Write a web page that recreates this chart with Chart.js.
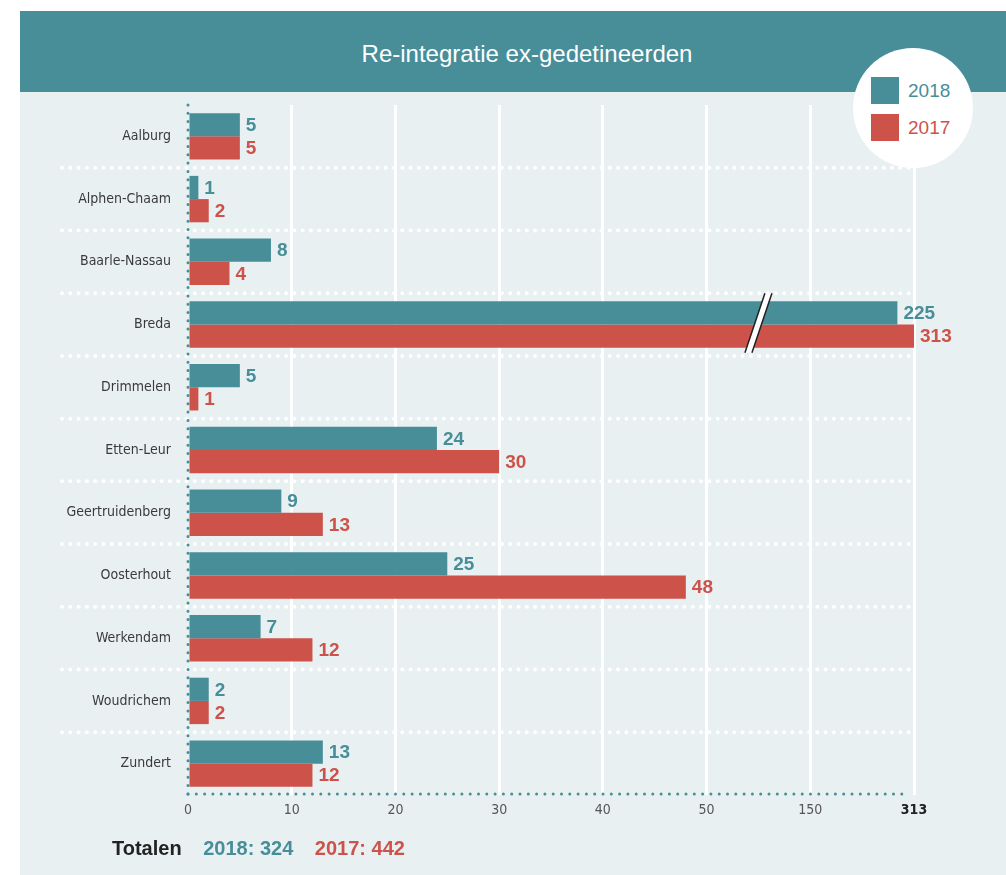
<!DOCTYPE html>
<html>
<head>
<meta charset="utf-8">
<title>Re-integratie ex-gedetineerden</title>
<script src="https://cdn.jsdelivr.net/npm/chart.js@4.4.0/dist/chart.umd.min.js"></script>
<style>
    body {
        margin: 0;
        width: 1006px;
        height: 875px;
        background: #fff;
        position: relative;
        overflow: hidden;
        font-family: 'Liberation Sans', Arial, sans-serif;
    }
    .header {
        position: absolute;
        left: 20px; top: 11px;
        width: 986px; height: 81px;
        background: #478e99;
    }
    .title {
        position: absolute;
        left: 20px; top: 13px;
        width: 1014px;
        line-height: 81px;
        text-align: center;
        color: #fff;
        font-size: 24px;
    }
    .panel {
        position: absolute;
        left: 20px; top: 92px;
        width: 986px; height: 783px;
        background: #e8f0f2;
    }
    .legend {
        position: absolute;
        left: 853px; top: 48px;
        width: 120px; height: 120px;
        border-radius: 50%;
        background: #fff;
        z-index: 2;
    }
    .legend .item {
        position: absolute;
        left: 18px;
        height: 27px;
        line-height: 27px;
        font-size: 19px;
        white-space: nowrap;
    }
    .legend .swatch {
        display: inline-block;
        width: 28px; height: 27px;
        vertical-align: top;
        margin-right: 9px;
    }
    .totals {
        position: absolute;
        left: 112px; top: 837px;
        font-size: 20px;
        font-weight: bold;
        white-space: nowrap;
        z-index: 2;
    }
    .totals span { margin-right: 16px; }
    #chartWrap {
        position: absolute;
        left: 20px; top: 92px;
    }
</style>
</head>
<body>
<div class="header"></div>
<div class="title">Re-integratie ex-gedetineerden</div>
<div class="panel"></div>
<div class="legend" id="legend"></div>
<div id="chartWrap"><canvas id="barChart" width="986" height="783"></canvas></div>
<div class="totals" id="totals"></div>

<script>
// Data
const categories = ['Aalburg', 'Alphen-Chaam', 'Baarle-Nassau', 'Breda', 'Drimmelen', 'Etten-Leur',
    'Geertruidenberg', 'Oosterhout', 'Werkendam', 'Woudrichem', 'Zundert'];
const values2018 = [5, 1, 8, 225, 5, 24, 9, 25, 7, 2, 13];
const values2017 = [5, 2, 4, 313, 1, 30, 13, 48, 12, 2, 12];
const seriesLabels = ['2018', '2017'];
const tickValues = [0, 10, 20, 30, 40, 50, 150, 313];
// broken axis: value -> tick step (0-50 linear, then compressed after the break)
const axisKnots = [[0, 0], [50, 5], [150, 6], [225, 6.84], [313, 7]];

const TEAL = '#478e99';
const RED = '#cd524a';
const NARROW = "'Liberation Sans Narrow', 'DejaVu Sans Condensed', sans-serif";
const WIDE = "'Liberation Sans', Arial, sans-serif";

function toUnits(v) {
    for (let i = 1; i < axisKnots.length; i++) {
        const [v0, u0] = axisKnots[i - 1];
        const [v1, u1] = axisKnots[i];
        if (v <= v1 || i === axisKnots.length - 1) {
            return u0 + (v - v0) / (v1 - v0) * (u1 - u0);
        }
    }
    return 0;
}

function fromUnits(u) {
    for (let i = 1; i < axisKnots.length; i++) {
        const [v0, u0] = axisKnots[i - 1];
        const [v1, u1] = axisKnots[i];
        if (u <= u1 || i === axisKnots.length - 1) {
            return v0 + (u - u0) / (u1 - u0) * (v1 - v0);
        }
    }
    return 0;
}

const maxUnits = axisKnots[axisKnots.length - 1][1];

// Linear scale with an axis break
class BrokenScale extends Chart.LinearScale {
    buildTicks() {
        return tickValues.map(v => ({ value: v }));
    }
    getPixelForValue(value) {
        return this.getPixelForDecimal(toUnits(value) / maxUnits);
    }
    getValueForPixel(pixel) {
        return fromUnits(this.getDecimalForPixel(pixel) * maxUnits);
    }
}
BrokenScale.id = 'broken';
BrokenScale.defaults = {};
Chart.register(BrokenScale);

// Legend + totals
function buildLegend() {
    const legend = document.getElementById('legend');
    const colors = [TEAL, RED];
    seriesLabels.forEach((label, i) => {
        const item = document.createElement('div');
        item.className = 'item';
        item.style.top = (29 + i * 37) + 'px';
        item.style.color = colors[i];
        item.innerHTML = `<span class="swatch" style="background:${colors[i]}"></span>${label}`;
        legend.appendChild(item);
    });

    const sum = arr => arr.reduce((a, b) => a + b, 0);
    document.getElementById('totals').innerHTML = `
        <span style="color:#222">Totalen</span>
        <span style="color:${TEAL}">${seriesLabels[0]}: ${sum(values2018)}</span>
        <span style="color:${RED}">${seriesLabels[1]}: ${sum(values2017)}</span>
    `;
}

function dotRow(ctx, x1, y1, x2, y2, gap, size, color) {
    ctx.save();
    ctx.strokeStyle = color;
    ctx.lineWidth = size;
    ctx.lineCap = 'round';
    ctx.setLineDash([0, gap]);
    ctx.beginPath();
    ctx.moveTo(x1, y1);
    ctx.lineTo(x2, y2);
    ctx.stroke();
    ctx.restore();
}

// Dotted separators, axes, break mark and value labels
const decorPlugin = {
    id: 'decor',
    beforeDatasetsDraw(chart) {
        const ctx = chart.ctx;
        const y = chart.scales.y;
        const area = chart.chartArea;
        for (let i = 1; i < categories.length; i++) {
            const py = (y.getPixelForValue(i - 1) + y.getPixelForValue(i)) / 2;
            dotRow(ctx, 42, py, area.right - 4, py, 8.3, 4, '#ffffff');
        }
    },
    afterDatasetsDraw(chart) {
        const ctx = chart.ctx;
        const area = chart.chartArea;
        const x = chart.scales.x;

        // axes
        dotRow(ctx, area.left, area.top, area.left, area.bottom, 8.3, 3, TEAL);
        dotRow(ctx, area.left, area.bottom - 1, area.right - 4, area.bottom - 1, 8.3, 3, TEAL);

        // break mark over the Breda bars
        const breakIdx = values2017.indexOf(Math.max(...values2017));
        const top = chart.getDatasetMeta(0).data[breakIdx];
        const bottom = chart.getDatasetMeta(1).data[breakIdx];
        const bx = x.getPixelForValue(100);
        const y1 = top.y - top.height / 2 - 8;
        const y2 = bottom.y + bottom.height / 2 + 5;
        const lean = 10, half = 3.5;
        ctx.save();
        ctx.fillStyle = '#ffffff';
        ctx.beginPath();
        ctx.moveTo(bx + lean - half, y1);
        ctx.lineTo(bx + lean + half, y1);
        ctx.lineTo(bx - lean + half, y2);
        ctx.lineTo(bx - lean - half, y2);
        ctx.closePath();
        ctx.fill();
        ctx.strokeStyle = '#222';
        ctx.lineWidth = 1.5;
        ctx.beginPath();
        ctx.moveTo(bx + lean - half, y1);
        ctx.lineTo(bx - lean - half, y2);
        ctx.moveTo(bx + lean + half, y1);
        ctx.lineTo(bx - lean + half, y2);
        ctx.stroke();
        ctx.restore();

        // value labels
        ctx.save();
        ctx.font = 'bold 19px ' + WIDE;
        ctx.textBaseline = 'middle';
        ctx.textAlign = 'left';
        chart.data.datasets.forEach((ds, di) => {
            chart.getDatasetMeta(di).data.forEach((bar, i) => {
                ctx.fillStyle = ds.backgroundColor;
                ctx.fillText(String(ds.data[i]), bar.x + 6, bar.y + 1);
            });
        });
        ctx.restore();
    }
};

function initChart() {
    const ctx = document.getElementById('barChart').getContext('2d');
    new Chart(ctx, {
        type: 'bar',
        data: {
            labels: categories,
            datasets: [
                { label: seriesLabels[0], data: values2018, backgroundColor: TEAL },
                { label: seriesLabels[1], data: values2017, backgroundColor: RED }
            ]
        },
        options: {
            indexAxis: 'y',
            responsive: false,
            animation: false,
            events: [],
            categoryPercentage: 0.74,
            barPercentage: 1.0,
            layout: { padding: { top: 13, right: 92, bottom: 50, left: 0 } },
            plugins: {
                legend: { display: false },
                tooltip: { enabled: false }
            },
            scales: {
                x: {
                    type: 'broken',
                    min: 0,
                    max: 313,
                    afterFit: scale => { scale.height = 30; },
                    border: { display: false },
                    grid: {
                        color: c => c.tick && c.tick.value === 0 ? 'rgba(0,0,0,0)' : '#ffffff',
                        lineWidth: 3,
                        drawTicks: false
                    },
                    ticks: {
                        autoSkip: false,
                        maxRotation: 0,
                        padding: 7,
                        callback: v => String(v),
                        color: c => c.tick && c.tick.value === 313 ? '#222' : '#555',
                        font: c => ({
                            family: NARROW,
                            size: 14,
                            weight: c.tick && c.tick.value === 313 ? 'bold' : 'normal'
                        })
                    }
                },
                y: {
                    afterFit: scale => {
                        scale.width = 168;
                        scale.paddingTop = 0;
                        scale.paddingBottom = 0;
                    },
                    border: { display: false },
                    grid: { display: false, drawTicks: false },
                    ticks: {
                        padding: 17,
                        color: '#3a3a3a',
                        font: { family: NARROW, size: 14 }
                    }
                }
            }
        },
        plugins: [decorPlugin]
    });
}

document.addEventListener('DOMContentLoaded', function() {
    buildLegend();
    initChart();
});
</script>
</body>
</html>
